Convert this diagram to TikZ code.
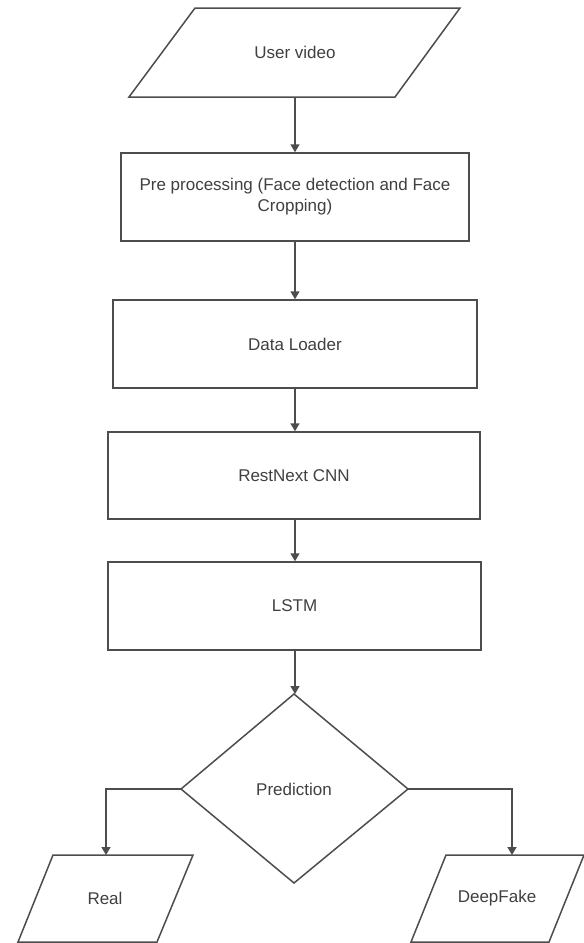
\documentclass[tikz,border=0pt]{standalone}
\usepackage{fontspec}
\setmainfont{Liberation Sans}
\usetikzlibrary{arrows.meta}
\definecolor{linec}{HTML}{4D4D4D}
\definecolor{textc}{HTML}{404040}
\tikzset{
  shp/.style={draw=linec, line width=1.5pt, line join=miter},
  boxn/.style={draw=linec, line width=1.5pt, rectangle, inner sep=0pt, text=textc, align=center,
    font=\fontsize{17}{21}\selectfont},
  lbl/.style={text=textc, inner sep=0pt, font=\fontsize{17}{21}\selectfont},
  arr/.style={draw=linec, line width=1.5pt, -{Triangle[width=9pt,length=8pt]}},
}
\begin{document}
\begin{tikzpicture}[x=1pt,y=-1pt]
\useasboundingbox (0,0) rectangle (584,943);
\fill[white] (0,0) rectangle (584,943);
% User video
\draw[shp] (195,8) -- (460,8) -- (395,97) -- (129,97) -- cycle;
\node[lbl] (uv) at (295,52) {User video};
\coordinate (uvs) at (295,97);
% Rectangles
\node[boxn, minimum width=348pt, minimum height=88pt] (pre) at (295,197)
  {Pre processing (Face detection and Face\\Cropping)};
\node[boxn, minimum width=364pt, minimum height=88pt] (dl) at (295,344) {Data Loader};
\node[boxn, minimum width=372pt, minimum height=87pt] (cnn) at (294,475.5) {RestNext CNN};
\node[boxn, minimum width=373pt, minimum height=88pt] (lstm) at (294.5,606) {LSTM};
% Diamond
\draw[shp] (294,694) -- (408,789) -- (294,883) -- (181,789) -- cycle;
\node[lbl] (pred) at (294,789) {Prediction};
\coordinate (dt) at (294,694);
\coordinate (dl2) at (181,789);
\coordinate (dr) at (408,789);
% Real
\draw[shp] (53,855) -- (193,855) -- (157,942) -- (18,942) -- cycle;
\node[lbl] (real) at (105,898) {Real};
\coordinate (realt) at (106,855);
% DeepFake
\draw[shp] (446,855) -- (584,855) -- (549,942) -- (411,942) -- cycle;
\node[lbl] (fake) at (497,898) {DeepFake};
\coordinate (faket) at (512,855);
% Connectors
\draw[arr] (uvs) -- (uvs |- pre.north);
\draw[arr] (uvs |- pre.south) -- (uvs |- dl.north);
\draw[arr] (uvs |- dl.south) -- (uvs |- cnn.north);
\draw[arr] (uvs |- cnn.south) -- (uvs |- lstm.north);
\draw[arr] (uvs |- lstm.south) -- (uvs |- dt);
\draw[arr] (dl2) -| (realt);
\draw[arr] (dr) -| (faket);
\end{tikzpicture}
\end{document}
